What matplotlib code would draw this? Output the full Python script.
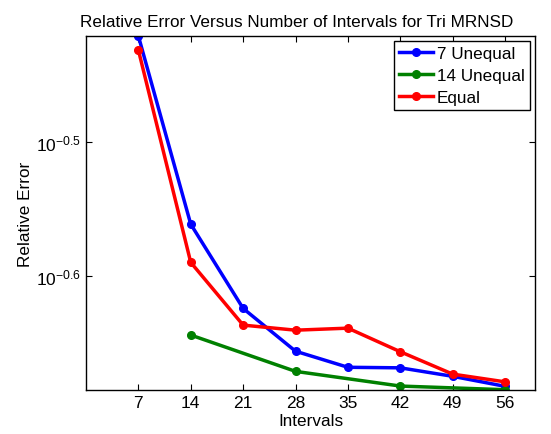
import numpy as np
import matplotlib
matplotlib.use('Agg')
import matplotlib.pyplot as plt
from matplotlib.ticker import FixedLocator, FixedFormatter, NullLocator

plt.rcParams['font.family'] = ['Liberation Sans', 'DejaVu Sans']
plt.rcParams['mathtext.fontset'] = 'custom'
plt.rcParams['mathtext.rm'] = 'Liberation Sans'
plt.rcParams['mathtext.it'] = 'Liberation Sans'

# data
intervals = [7, 14, 21, 28, 35, 42, 49, 56]
err_7_unequal = [0.3792, 0.2747, 0.2378, 0.2210, 0.2150, 0.2148, 0.2117, 0.2081]
intervals_14 = [14, 28, 42, 56]
err_14_unequal = [0.2272, 0.2135, 0.2082, 0.2069]
err_equal = [0.3702, 0.2573, 0.2311, 0.2291, 0.2299, 0.2208, 0.2125, 0.2097]

fig = plt.figure(figsize=(5.51, 4.35), dpi=100)
ax1 = fig.add_axes([0.156, 0.101, 0.815, 0.814])

ax1.plot(intervals, err_7_unequal, c='b', lw=2.5, marker='o', ms=5.5, label='7 Unequal')
ax1.plot(intervals_14, err_14_unequal, c=(0, 0.5, 0), lw=2.5, marker='o', ms=5.5, label='14 Unequal')
ax1.plot(intervals, err_equal, c='r', lw=2.5, marker='o', ms=5.5, label='Equal')

ax1.set_yscale('log')
ax1.set_xlim(0, 60)
ax1.set_ylim(10 ** -0.6845, 10 ** -0.4212)
ax1.set_xticks(intervals)
ax1.yaxis.set_major_locator(FixedLocator([10 ** -0.5, 10 ** -0.6]))
ax1.yaxis.set_major_formatter(FixedFormatter([r'$10^{-0.5}$', r'$10^{-0.6}$']))
ax1.yaxis.set_minor_locator(NullLocator())
ax1.tick_params(direction='in', top=True, right=True, labelsize=12.5, length=4)
for s in ax1.spines.values():
    s.set_linewidth(1.0)

ax1.set_title('Relative Error Versus Number of Intervals for Tri MRNSD', fontsize=12.3, pad=7,
              x=0.469)
ax1.set_xlabel('Intervals', fontsize=12.3, labelpad=2)
ax1.set_ylabel('Relative Error', fontsize=12.3, labelpad=2)

leg = ax1.legend(loc='upper right', fontsize=12.3, fancybox=False, framealpha=1,
                 edgecolor='k', handlelength=2.0, borderpad=0.3, labelspacing=0.4,
                 handletextpad=0.2, borderaxespad=0.3)
leg.get_frame().set_linewidth(1.0)

fig.savefig('out.png', dpi=100)
